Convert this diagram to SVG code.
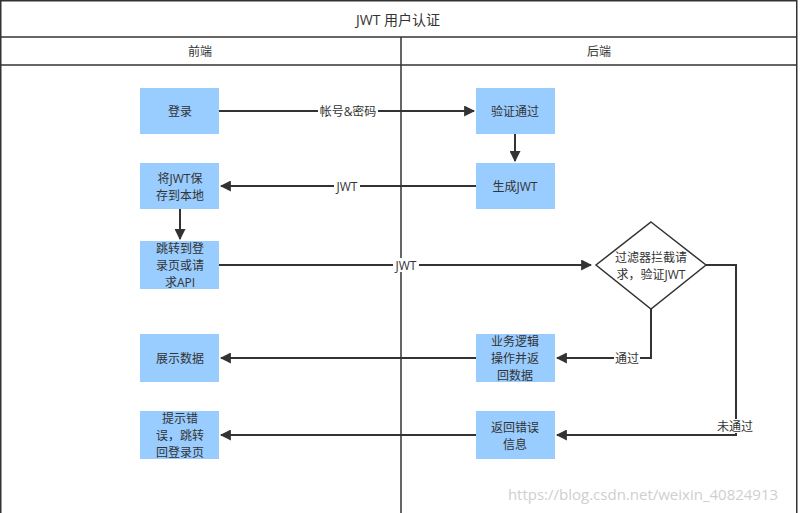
<svg xmlns="http://www.w3.org/2000/svg" width="800" height="513" viewBox="0 0 800 513">
<defs>
<style>
text{font-family:"Open Sans","Noto Sans CJK SC",sans-serif;font-size:12px;fill:#333;text-anchor:middle;dominant-baseline:central}
.box{fill:#99ccff}
.ln{fill:none;stroke:#333;stroke-width:2}
.lab{fill:#fff}
</style>
<marker id="ah" viewBox="0 0 10 10" refX="9" refY="5" markerWidth="5.5" markerHeight="5.5" orient="auto" markerUnits="strokeWidth"><path d="M0,0L10,5L0,10Z" fill="#333"/></marker>
</defs>
<rect x="0" y="0" width="800" height="513" fill="#fff"/>
<g id="frame" fill="none" stroke="#333" stroke-width="1.5">
<rect x="0.75" y="0.75" width="796" height="520"/>
<line x1="0" y1="37" x2="797" y2="37"/>
<line x1="0" y1="65" x2="797" y2="65"/>
<line x1="401" y1="37" x2="401" y2="513"/>
</g>
<text x="398" y="19" style="font-size:14px">JWT 用户认证</text>
<text x="200" y="51">前端</text>
<text x="599" y="51">后端</text>
<g id="connectors">
<path class="ln" d="M219,111H474" marker-end="url(#ah)"/>
<rect class="lab" x="318" y="104" width="60" height="14"/><text x="348" y="111">帐号&amp;密码</text>
<path class="ln" d="M515,134V161" marker-end="url(#ah)"/>
<path class="ln" d="M476,186H221" marker-end="url(#ah)"/>
<rect class="lab" x="334" y="179" width="26" height="14"/><text x="347" y="186">JWT</text>
<path class="ln" d="M180,209V239" marker-end="url(#ah)"/>
<path class="ln" d="M219,265H591" marker-end="url(#ah)"/>
<rect class="lab" x="393" y="258" width="26" height="14"/><text x="406" y="265">JWT</text>
<path class="ln" d="M651,309V358H557" marker-end="url(#ah)"/>
<rect class="lab" x="614" y="351" width="26" height="14"/><text x="627" y="358">通过</text>
<path class="ln" d="M476,358H221" marker-end="url(#ah)"/>
<path class="ln" d="M706,265H736V435H557" marker-end="url(#ah)"/>
<rect class="lab" x="715" y="419" width="40" height="14"/><text x="735" y="426">未通过</text>
<path class="ln" d="M476,435H221" marker-end="url(#ah)"/>
</g>
<g id="n-login"><rect class="box" x="140" y="88" width="79" height="46"/><text x="180" y="111">登录</text></g>
<g id="n-verify"><rect class="box" x="476" y="88" width="79" height="46"/><text x="515" y="111">验证通过</text></g>
<g id="n-gen"><rect class="box" x="476" y="163" width="79" height="46"/><text x="515" y="186">生成JWT</text></g>
<g id="n-save"><rect class="box" x="140" y="163" width="79" height="46"/><text x="180" y="178">将JWT保</text><text x="180" y="195">存到本地</text></g>
<g id="n-jump"><rect class="box" x="140" y="241" width="79" height="48"/><text x="180" y="248">跳转到登</text><text x="180" y="265">录页或请</text><text x="180" y="282">求API</text></g>
<g id="n-filter"><path d="M651,222L706,265L651,309L596,265Z" fill="#fff" stroke="#333" stroke-width="1.5"/><text x="651" y="257">过滤器拦截请</text><text x="651" y="274">求，验证JWT</text></g>
<g id="n-biz"><rect class="box" x="476" y="334" width="79" height="48"/><text x="515" y="341">业务逻辑</text><text x="515" y="358">操作并返</text><text x="515" y="375">回数据</text></g>
<g id="n-show"><rect class="box" x="140" y="334" width="79" height="48"/><text x="180" y="358">展示数据</text></g>
<g id="n-err"><rect class="box" x="476" y="411" width="79" height="48"/><text x="515" y="427">返回错误</text><text x="515" y="444">信息</text></g>
<g id="n-tip"><rect class="box" x="140" y="411" width="79" height="48"/><text x="180" y="418">提示错</text><text x="180" y="435">误，跳转</text><text x="180" y="452">回登录页</text></g>
<text x="643" y="494" style="font-size:15px;fill:#cfcfcf">https://blog.csdn.net/weixin_40824913</text>
</svg>
